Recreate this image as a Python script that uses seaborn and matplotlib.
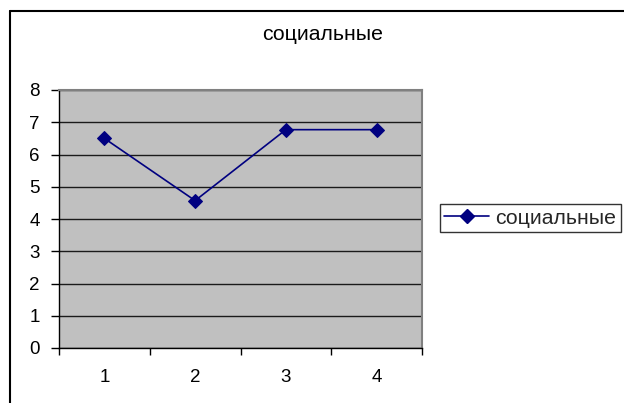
import matplotlib
matplotlib.use("Agg")
import matplotlib.pyplot as plt
from matplotlib.lines import Line2D
import seaborn as sns
import pandas as pd

# ── Data ─────────────────────────────────────────────────────
categories = [1, 2, 3, 4]
values = [6.5, 4.57, 6.77, 6.77]
series_name = "социальные"
title = "социальные"

df = pd.DataFrame({"x": categories, "y": values})

# ── Style ────────────────────────────────────────────────────
sns.set_theme(style="white")
plt.rcParams["font.family"] = ["Liberation Sans", "DejaVu Sans"]

W, H = 624, 403
fig = plt.figure(figsize=(W / 100, H / 100), dpi=100)
fig.patch.set_facecolor("white")

# plot area in pixel coords: left 59, right 422, top 90, bottom 348
ax = fig.add_axes([59 / W, 1 - 348 / H, (422 - 59) / W, (348 - 90) / H])
ax.set_facecolor("#C0C0C0")

sns.lineplot(data=df, x="x", y="y", ax=ax, color="#000080", linewidth=1.2,
             marker="D", markersize=7, markeredgecolor="#000080",
             label=series_name, legend=False)

ax.set_xlim(0.5, 4.5)
ax.set_ylim(0, 8)
ax.set_xlabel("")
ax.set_ylabel("")

ax.set_yticks(range(0, 9))
ax.yaxis.grid(True, color="#1a1a1a", linewidth=1)
ax.xaxis.grid(False)
ax.set_axisbelow(True)

ax.set_xticks(categories)
ax.set_xticks([0.5, 1.5, 2.5, 3.5, 4.5], minor=True)
ax.tick_params(axis="x", which="major", length=0, pad=15, labelsize=13.5, colors="black")
ax.tick_params(axis="x", which="minor", length=5, width=1, color="black", direction="out", bottom=True)
ax.tick_params(axis="y", length=6, width=1, color="black", direction="out", left=True,
               pad=8, labelsize=13.5, labelcolor="black")

for side in ["left", "bottom"]:
    ax.spines[side].set_color("black")
    ax.spines[side].set_linewidth(1)
for side in ["top", "right"]:
    ax.spines[side].set_color("#808080")
    ax.spines[side].set_linewidth(1.5)

fig.text(323 / W, 1 - 35 / H, title, ha="center", va="center", fontsize=15.3, color="black")

# legend
handle = Line2D([], [], color="#000080", linewidth=1.2, marker="D", markersize=7)
leg = fig.legend([handle], [series_name], loc="center left",
                 bbox_to_anchor=(440 / W, 1 - 218 / H), fontsize=15.3,
                 frameon=True, fancybox=False, handlelength=2.1,
                 borderpad=0.2, handletextpad=0.3, borderaxespad=0)
leg.get_frame().set_edgecolor("black")
leg.get_frame().set_linewidth(1)

# outer chart border (left and top edges visible)
fig.add_artist(Line2D([10 / W, 10 / W], [0, 1 - 11 / H], color="black", linewidth=1.5))
fig.add_artist(Line2D([10 / W, 1], [1 - 11 / H, 1 - 11 / H], color="black", linewidth=1.5))

plt.savefig("out.png", dpi=100)
